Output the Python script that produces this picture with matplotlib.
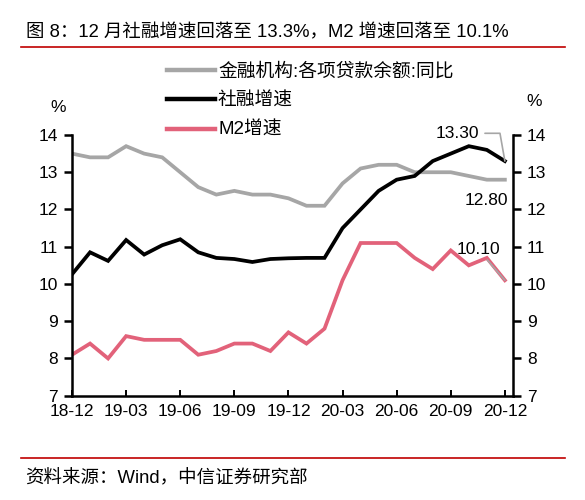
import numpy as np
import matplotlib
matplotlib.use("Agg")
import matplotlib.pyplot as plt
from matplotlib.lines import Line2D

plt.rcParams['font.family'] = ['Liberation Sans', 'Noto Sans CJK SC', 'DejaVu Sans']

# Data, monthly 2018-12 .. 2020-12
months = ['18-12', '19-01', '19-02', '19-03', '19-04', '19-05', '19-06', '19-07', '19-08',
          '19-09', '19-10', '19-11', '19-12', '20-01', '20-02', '20-03', '20-04', '20-05',
          '20-06', '20-07', '20-08', '20-09', '20-10', '20-11', '20-12']
loans = [13.5, 13.4, 13.4, 13.7, 13.5, 13.4, 13.0, 12.6, 12.4, 12.5, 12.4, 12.4, 12.3,
         12.1, 12.1, 12.7, 13.1, 13.2, 13.2, 13.0, 13.0, 13.0, 12.9, 12.8, 12.8]
tsf = [10.26, 10.85, 10.62, 11.18, 10.79, 11.04, 11.2, 10.85, 10.7, 10.67, 10.59, 10.67, 10.69,
       10.7, 10.7, 11.5, 12.0, 12.5, 12.8, 12.9, 13.3, 13.5, 13.7, 13.6, 13.3]
m2 = [8.1, 8.4, 8.0, 8.6, 8.5, 8.5, 8.5, 8.1, 8.2, 8.4, 8.4, 8.2, 8.7,
      8.4, 8.8, 10.1, 11.1, 11.1, 11.1, 10.7, 10.4, 10.9, 10.5, 10.7, 10.1]
labels = ['金融机构:各项贷款余额:同比', '社融增速', 'M2增速']

gray, black, pink, darkred = '#A6A6A6', '#000000', '#E2627A', '#C00000'
x = np.arange(len(months))

fig = plt.figure(figsize=(5.85, 5.0), dpi=100)
ax = fig.add_axes([0.1231, 0.2086, 0.7538, 0.5214])

ax.plot(x, loans, color=gray, lw=2.7, solid_joinstyle='miter')
ax.plot(x, tsf, color=black, lw=2.7, solid_joinstyle='miter')
ax.plot(x, m2, color=pink, lw=2.7, solid_joinstyle='miter')

ax.set_xlim(0, 24.45)
ax.set_ylim(7, 14)
ax.set_xticks(x[::3])
ax.set_xticklabels(months[::3])
ax.set_yticks(range(7, 15))

ax2 = ax.twinx()
ax2.set_ylim(7, 14)
ax2.set_yticks(range(7, 15))

for a in (ax, ax2):
    a.spines['top'].set_visible(False)
    for s in ('left', 'right', 'bottom'):
        a.spines[s].set_linewidth(1.8)
ax.spines['right'].set_visible(False)
ax2.spines['left'].set_visible(False)
ax2.spines['bottom'].set_visible(False)

ax.tick_params(axis='y', direction='out', length=6, width=1.8, labelsize=12.5, pad=4)
ax2.tick_params(axis='y', direction='out', length=6, width=1.8, labelsize=12.5, pad=4)
ax.tick_params(axis='x', direction='in', length=4, width=1.4, labelsize=12.5, pad=6)

# end-point labels
ax.annotate('13.30', xy=(x[-1], tsf[-1]), xytext=(-34, 20), textcoords='offset points',
            ha='center', va='center', fontsize=12.5, annotation_clip=False,
            arrowprops=dict(arrowstyle='-', color=gray, lw=1.2,
                            connectionstyle='angle,angleA=0,angleB=100,rad=0',
                            shrinkA=2, shrinkB=0))
ax.annotate('12.80', xy=(x[-1], loans[-1]), xytext=(-13.5, -15), textcoords='offset points',
            ha='center', va='center', fontsize=12.5)
ax.annotate('10.10', xy=(x[-1], m2[-1]), xytext=(-19, 22), textcoords='offset points',
            ha='center', va='center', fontsize=12.5,
            arrowprops=dict(arrowstyle='-', color=gray, lw=1.2, shrinkA=0, shrinkB=0))

fig.text(58 / 585, 1 - 108 / 500, '%', ha='center', va='center', fontsize=12.5)
fig.text(534 / 585, 1 - 101 / 500, '%', ha='center', va='center', fontsize=12.5)

# legend
handles = [Line2D([], [], color=c, lw=3.2) for c in (gray, black, pink)]
fig.legend(handles, labels, loc='upper left', bbox_to_anchor=(167 / 585, 1 - 63 / 500),
           frameon=False, fontsize=13.5, handlelength=2.56, handletextpad=0.16,
           labelspacing=0.65, borderpad=0, borderaxespad=0)

# title and source
fig.text(26 / 585, 1 - 33 / 500, '图 8：12 月社融增速回落至 13.3%，M2 增速回落至 10.1%',
         ha='left', va='center', fontsize=13.3)
fig.add_artist(Line2D([21 / 585, 565 / 585], [1 - 46.5 / 500, 1 - 46.5 / 500], color=darkred, lw=1.2))
fig.add_artist(Line2D([21 / 585, 565 / 585], [1 - 458 / 500, 1 - 458 / 500], color=darkred, lw=1.2))
fig.text(25 / 585, 1 - 479 / 500, '资料来源：Wind，中信证券研究部', ha='left', va='center', fontsize=13.3)

fig.savefig('out.png', dpi=100)
